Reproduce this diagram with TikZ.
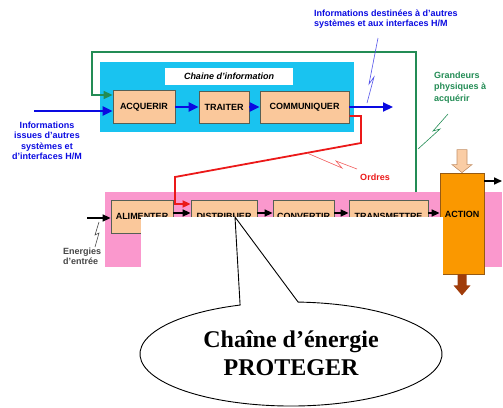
\documentclass[tikz,border=0pt]{standalone}
\usepackage{fontspec}
\setmainfont{Liberation Serif}
\setsansfont{Liberation Sans}
\usetikzlibrary{arrows.meta,calc}
\definecolor{fondinfo}{RGB}{25,195,240}
\definecolor{fondenergie}{RGB}{250,152,205}
\definecolor{fondbloc}{RGB}{250,200,155}
\definecolor{bordbloc}{RGB}{85,95,85}
\definecolor{orangeaction}{RGB}{250,152,0}
\definecolor{bordaction}{RGB}{150,90,20}
\definecolor{vertinfo}{RGB}{35,140,85}
\definecolor{bleuinfo}{RGB}{10,10,225}
\definecolor{rougeordre}{RGB}{235,25,25}
\definecolor{brunsortie}{RGB}{160,60,10}
\definecolor{beigeentree}{RGB}{250,205,165}
\definecolor{bordbeige}{RGB}{195,145,105}
\definecolor{grisenergie}{RGB}{70,70,70}
\tikzset{
    % Le style des blocs fonctionnels des deux chaines
    bloc/.style={
        draw=bordbloc,
        fill=fondbloc,
        line width=0.8pt,
        inner sep=0pt,
        minimum height=33pt,
        font=\sffamily\bfseries\fontsize{9}{10}\selectfont
    },
    texte_bloc/.style={inner sep=0pt, font=\sffamily\bfseries\fontsize{9}{10}\selectfont},
    % Les textes en couleur autour des chaines
    legende/.style={inner sep=0pt, font=\sffamily\bfseries\fontsize{9}{10.5}\selectfont},
    % Les fleches d'information et d'energie
    fleche_info/.style={draw=bleuinfo, line width=2.2pt, -{Triangle[length=10pt,width=9pt]}},
    fleche_energie/.style={draw=black, line width=1.6pt, -{Triangle[length=8pt,width=7pt]}},
    eclair/.style={line width=0.6pt}
}
\begin{document}
\begin{tikzpicture}[x=1pt,y=-1pt]
        \useasboundingbox (0,0) rectangle (503,407);

        % --- 1. Fonds des deux chaines ---
        \fill[fondenergie] (105,192) rectangle (502,267);
        \fill[fondinfo] (100,62) rectangle (354,132);

        % --- 2. Chaine d'information ---
        \node[fill=white, minimum width=128pt, minimum height=17pt, inner sep=0pt,
              font=\sffamily\bfseries\itshape\fontsize{9}{10}\selectfont] (titre_info) at (229,76.5) {Chaine d'information};
        \node[bloc, minimum width=62pt] (acquerir) at (144,107) {ACQUERIR};
        \node[bloc, minimum width=50pt, minimum height=32pt] (traiter) at (224,107) {TRAITER};
        \node[bloc, minimum width=89pt, minimum height=32pt] (communiquer) at (304.5,107) {COMMUNIQUER};

        \coordinate (entree_info) at (34,111);
        \coordinate (sortie_info) at (393,107);
        \draw[fleche_info] (entree_info) -- (entree_info -| acquerir.west);
        \draw[fleche_info] (acquerir) -- (traiter);
        \draw[fleche_info] (traiter) -- (communiquer);
        \draw[fleche_info] (communiquer) -- (sortie_info);

        % Retour des grandeurs physiques vers ACQUERIR
        \coordinate (retour) at (416,192);
        \draw[draw=vertinfo, line width=1.5pt, -{Triangle[length=9pt,width=8pt]}]
            (retour) |- (92,52) |- ([yshift=12pt]acquerir.west);

        % --- 3. Chaine d'energie ---
        \node[bloc, minimum width=62pt] (alimenter) at (142,216.5) {ALIMENTER};
        \node[bloc, minimum width=66pt] (distribuer) at (224,216.5) {DISTRIBUER};
        \node[bloc, minimum width=61pt] (convertir) at (303.5,216.5) {CONVERTIR};
        \node[bloc, minimum width=79pt] (transmettre) at (388.5,216.5) {TRANSMETTRE};
        \node[draw=bordaction, fill=orangeaction, line width=0.8pt, minimum width=44pt, minimum height=101pt,
              label={[texte_bloc, yshift=9pt]center:ACTION}] (action) at (462,223.5) {};

        \coordinate (entree_energie) at (87,218);
        \draw[fleche_energie] (entree_energie) -- (entree_energie -| alimenter.west);
        \foreach \a/\b in {alimenter/distribuer, distribuer/convertir, convertir/transmettre}
            \draw[fleche_energie] ([yshift=3.5pt]\a.east) -- ([yshift=3.5pt]\b.west);
        \draw[fleche_energie] ([yshift=3.5pt]transmettre.east) -- ([yshift=3.5pt]transmettre.east -| action.west);

        % Ordres envoyes a DISTRIBUER
        \draw[draw=rougeordre, line width=1.8pt, -{Triangle[length=8pt,width=7pt]}]
            ([yshift=-9pt]communiquer.east) -| (361,143) -- (175,177) |- ([yshift=12.5pt]distribuer.west);

        % Matiere d'oeuvre entrante et sortante
        \coordinate (sortie_action) at (502,181);
        \draw[fleche_energie] (action.east |- sortie_action) -- (sortie_action);
        \draw[draw=bordbeige, fill=beigeentree, line width=0.6pt]
            ($(action.north)+(-5,-23)$) -- ++(10,0) -- ++(0,15) -- ++(5,0) -- (action.north) -- ++(-10,-8) -- ++(5,0) -- cycle;
        \fill[brunsortie]
            ($(action.south)+(-4.5,0)$) -- ++(9,0) -- ++(0,11) -- ++(4,0) -- ($(action.south)+(0,21)$) -- ++(-8.5,-10) -- ++(4,0) -- cycle;

        % --- 4. Eclairs et legendes ---
        \draw[eclair, bleuinfo!70] (378,38) -- (369,84) -- (374,77) -- (367,103);
        \draw[eclair, vertinfo] (448,114) -- (433,131) -- (440,129) -- (418,149);
        \draw[eclair, rougeordre!70] (307,153) -- (342,168) -- (336,161) -- (357,169);
        \draw[eclair, grisenergie] (99,222) -- (95,235) -- (99,233) -- (95,247);

        \node[legende, text=bleuinfo, align=center, anchor=north] (infos_issues) at (47,121.5)
            {Informations\\issues d'autres\\systèmes et\\d'interfaces H/M};
        \node[legende, text=bleuinfo, align=left, anchor=north west] (infos_destinees) at (314,9.5)
            {Informations destinées à d'autres\\systèmes et aux interfaces H/M};
        \node[legende, text=vertinfo, align=left, anchor=north west, font=\sffamily\bfseries\fontsize{9}{11.5}\selectfont]
            (grandeurs) at (434,71.5) {Grandeurs\\physiques à\\acquérir};
        \node[legende, text=rougeordre] (ordres) at (375,177) {Ordres};
        \node[legende, text=grisenergie, align=left, anchor=north west, font=\sffamily\bfseries\fontsize{9}{10}\selectfont]
            (energies) at (63,247.5) {Energies\\d'entrée};

        % --- 5. Cache blanc et bulle ---
        \fill[white] (141,217) rectangle (443,290);
        \coordinate (bulle) at (291,354);
        \coordinate (pointe) at (235,217);
        \draw[fill=white, line width=0.9pt] (bulle) ++(109.7:151pt and 52pt)
            arc[start angle=109.7, end angle=447.3, x radius=151pt, y radius=52pt] -- (pointe) -- cycle;
        \node[align=center, inner sep=0pt, font=\rmfamily\bfseries\fontsize{24}{28}\selectfont] (texte_bulle) at (291,353)
            {Chaîne d’énergie\\PROTEGER};
    \end{tikzpicture}
\end{document}
